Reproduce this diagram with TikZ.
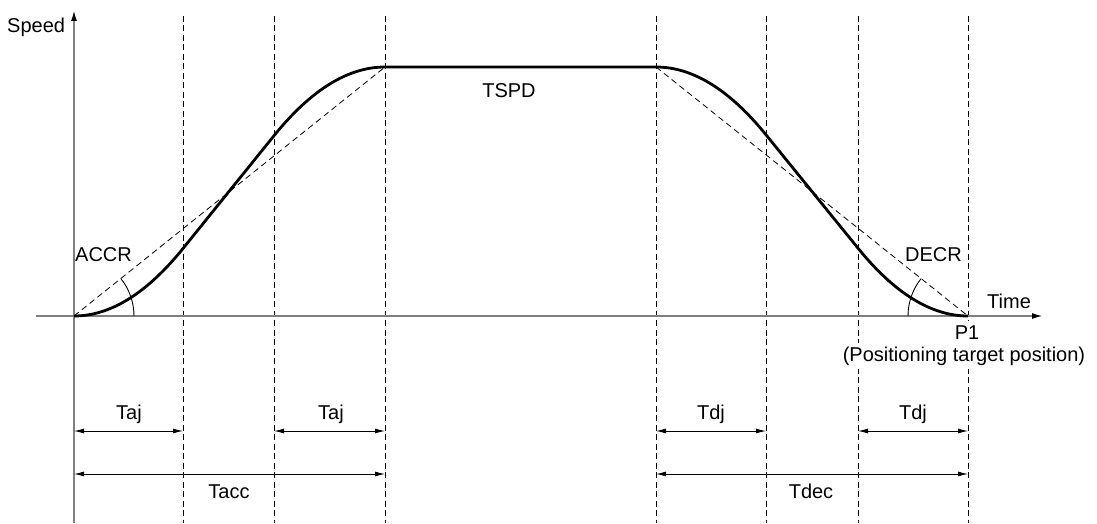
\documentclass[tikz,border=0pt]{standalone}
\usepackage{fontspec}
\setmainfont{Liberation Sans}
\usetikzlibrary{arrows.meta}
\begin{document}
\begin{tikzpicture}[x=1pt,y=1pt,
  font=\fontsize{20}{24}\selectfont,
  axis/.style={draw=black!50, line width=1.8pt},
  guide/.style={draw=black, line width=0.9pt, dash pattern=on 6pt off 3.5pt},
  diag/.style={draw=black, line width=0.8pt, dash pattern=on 6pt off 4pt},
  prof/.style={draw=black, line width=2.8pt, line join=round},
  anglearc/.style={draw=black, line width=0.9pt},
  dim/.style={draw=black, line width=0.9pt, {Latex[length=10pt,width=5pt]}-{Latex[length=10pt,width=5pt]}},
  lbl/.style={inner sep=0pt, anchor=base},
  masklbl/.style={inner xsep=2pt, inner ysep=4pt, anchor=base, fill=white},
  ]
\useasboundingbox (0,0) rectangle (1097,523);
% named positions
\coordinate (O) at (74,207);
\coordinate (Ytop) at (74,513);
\coordinate (Ybot) at (74,0);
\coordinate (Xl) at (36,207);
\coordinate (Xr) at (1043,207);
\coordinate (P1) at (968,207);
\coordinate (Ta) at (385,456);
\coordinate (Td) at (656,456);
% guide lines
\foreach \n/\x in {g1/183,g2/274,g3/385,g4/656,g5/766,g6/858,g7/968}{
  \coordinate (\n t) at (\x,507);
  \coordinate (\n b) at (\x,0);
  \draw[guide] (\n t) -- (\n b);
}
% axes
\draw[axis, -{Latex[black,length=11pt,width=6pt]}] (Ybot) -- (Ytop);
\draw[axis, -{Latex[black,length=11pt,width=6pt]}] (Xl) -- (Xr);
% dashed linear ramps
\draw[diag] (O) -- (Ta);
\draw[diag] (Td) -- (P1);
% angle arcs
\draw[anglearc] (134,207) arc[start angle=0, end angle=38.7, radius=60pt];
\draw[anglearc] (908,207) arc[start angle=180, end angle=141.4, radius=60pt];
% speed profile
\draw[prof] (O) .. controls (110.33,207) and (146.67,229.5) .. (183,274.5)
  -- (274,387.3) .. controls (311,433.1) and (348,456) .. (Ta)
  -- (Td) .. controls (692.67,456) and (729.33,433.4) .. (766,388.2)
  -- (858,274.8) .. controls (894.67,229.6) and (931.33,207) .. (P1);
% dimension arrows
\coordinate (a0) at (74,92);  \coordinate (a1) at (183,92);
\coordinate (a2) at (274,92); \coordinate (a3) at (385,92);
\coordinate (b0) at (74,49);  \coordinate (b1) at (385,49);
\coordinate (d0) at (656,92); \coordinate (d1) at (766,92);
\coordinate (d2) at (858,92); \coordinate (d3) at (968,92);
\coordinate (e0) at (656,49); \coordinate (e1) at (968,49);
\draw[dim] (a0) -- (a1);
\draw[dim] (a2) -- (a3);
\draw[dim] (b0) -- (b1);
\draw[dim] (d0) -- (d1);
\draw[dim] (d2) -- (d3);
\draw[dim] (e0) -- (e1);
% labels
\node[lbl, anchor=base west] (speed) at (7,490) {Speed};
\node[lbl, anchor=base west] (accr) at (75,262) {ACCR};
\node[lbl, anchor=base west] (decr) at (905,262) {DECR};
\node[lbl] (tspd) at (509,425) {TSPD};
\node[lbl, anchor=base west] (time) at (987,215) {Time};
\node[masklbl] (ptp) at (964,162) {(Positioning target position)};
\node[masklbl] (p1lbl) at (967,184) {P1};
\node[lbl] (taj1) at (129,104) {Taj};
\node[lbl] (taj2) at (331,104) {Taj};
\node[lbl] (tacc) at (229,25) {Tacc};
\node[lbl] (tdj1) at (711,104) {Tdj};
\node[lbl] (tdj2) at (913,104) {Tdj};
\node[lbl] (tdec) at (811,25) {Tdec};
\end{tikzpicture}
\end{document}
